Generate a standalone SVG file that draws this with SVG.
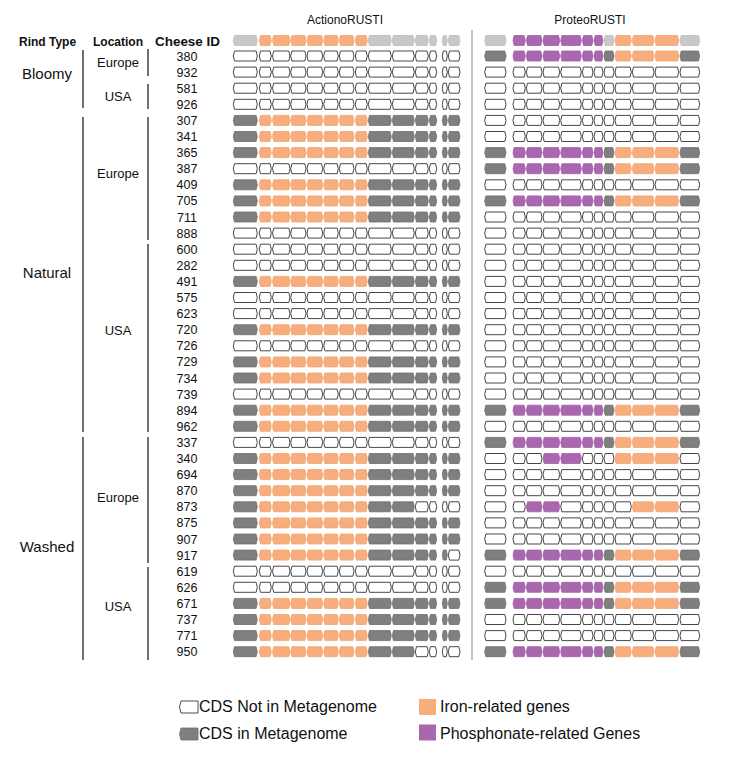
<svg xmlns="http://www.w3.org/2000/svg" xmlns:xlink="http://www.w3.org/1999/xlink" width="729" height="765" viewBox="0 0 729 765">
<style>
text{font-family:"Liberation Sans",Arial,sans-serif;fill:#111}
.hd{font-size:12px;font-weight:bold}
.id{font-size:12.5px;text-anchor:middle}
.rt{font-size:15px;text-anchor:middle}
.loc{font-size:13px;text-anchor:middle}
.ttl{font-size:12px;text-anchor:middle}
.lg{font-size:16px}
.w{fill:#fff;stroke:#333;stroke-width:0.9}
.g{fill:#7f7f7f;stroke:#6e6e6e;stroke-width:0.8}
.h{fill:#c8c8c8;stroke:#bcbcbc;stroke-width:0.8}
.o{fill:#f7ad7c;stroke:#f0a472;stroke-width:0.8}
.p{fill:#a967ae;stroke:#a060a6;stroke-width:0.8}
.ln{stroke:#222;stroke-width:1.3;fill:none}
</style>
<defs>
<path id="l1" d="M233.3 0L234.5-5H256.1L257.3 0L256.1 5H234.5Z"/>
<path id="l2" d="M259.3 0L260.5-5H270.1L271.3 0L270.1 5H260.5Z"/>
<path id="l3" d="M272.5 0L273.7-5H288.8L290 0L288.8 5H273.7Z"/>
<path id="l4" d="M290.7 0L291.9-5H304.8L306 0L304.8 5H291.9Z"/>
<path id="l5" d="M307 0L308.2-5H321.5L322.7 0L321.5 5H308.2Z"/>
<path id="l6" d="M323.7 0L324.9-5H337.1L338.3 0L337.1 5H324.9Z"/>
<path id="l7" d="M339.3 0L340.5-5H352.8L354 0L352.8 5H340.5Z"/>
<path id="l8" d="M355.3 0L356.5-5H366.1L367.3 0L366.1 5H356.5Z"/>
<path id="l9" d="M368.3 0L369.5-5H390.1L391.3 0L390.1 5H369.5Z"/>
<path id="l10" d="M392.3 0L393.5-5H413.1L414.3 0L413.1 5H393.5Z"/>
<path id="l11" d="M415.3 0L416.5-5H427.1L428.3 0L427.1 5H416.5Z"/>
<path id="l12" d="M429.3 0L430.5-5H435.5L436.7 0L435.5 5H430.5Z"/>
<path id="l13" d="M442.3 0L443.3-5H446.3L447.3 0L446.3 5H443.3Z"/>
<path id="l14" d="M448.3 0L449.5-5H458.8L460 0L458.8 5H449.5Z"/>
<path id="r1" d="M484.7 0L485.9-5H504.8L506 0L504.8 5H485.9Z"/>
<path id="r2" d="M513 0L514.2-5H524.1L525.3 0L524.1 5H514.2Z"/>
<path id="r3" d="M526.3 0L527.5-5H540.8L542 0L540.8 5H527.5Z"/>
<path id="r4" d="M543 0L544.2-5H558.5L559.7 0L558.5 5H544.2Z"/>
<path id="r5" d="M560.7 0L561.9-5H580.1L581.3 0L580.1 5H561.9Z"/>
<path id="r6" d="M582.3 0L583.5-5H591.8L593 0L591.8 5H583.5Z"/>
<path id="r7" d="M594 0L595.2-5H601.8L603 0L601.8 5H595.2Z"/>
<path id="r8" d="M604 0L605.2-5H612.8L614 0L612.8 5H605.2Z"/>
<path id="r9" d="M615 0L616.2-5H630.1L631.3 0L630.1 5H616.2Z"/>
<path id="r10" d="M632.3 0L633.5-5H652.8L654 0L652.8 5H633.5Z"/>
<path id="r11" d="M655 0L656.2-5H677.5L678.7 0L677.5 5H656.2Z"/>
<path id="r12" d="M680 0L681.2-5H698.5L699.7 0L698.5 5H681.2Z"/>
<g id="LW"><use href="#l1" class="w"/><use href="#l2" class="w"/><use href="#l3" class="w"/><use href="#l4" class="w"/><use href="#l5" class="w"/><use href="#l6" class="w"/><use href="#l7" class="w"/><use href="#l8" class="w"/><use href="#l9" class="w"/><use href="#l10" class="w"/><use href="#l11" class="w"/><use href="#l12" class="w"/><use href="#l13" class="w"/><use href="#l14" class="w"/></g>
<g id="LO"><use href="#l2" class="o"/><use href="#l3" class="o"/><use href="#l4" class="o"/><use href="#l5" class="o"/><use href="#l6" class="o"/><use href="#l7" class="o"/><use href="#l8" class="o"/></g>
<g id="LG"><use href="#l1" class="g"/><use href="#LO"/><use href="#l9" class="g"/><use href="#l10" class="g"/><use href="#l11" class="g"/><use href="#l12" class="g"/><use href="#l13" class="g"/><use href="#l14" class="g"/></g>
<g id="LG2"><use href="#l1" class="g"/><use href="#LO"/><use href="#l9" class="g"/><use href="#l10" class="g"/><use href="#l11" class="w"/><use href="#l12" class="w"/><use href="#l13" class="w"/><use href="#l14" class="w"/></g>
<g id="LG3"><use href="#l1" class="g"/><use href="#LO"/><use href="#l9" class="g"/><use href="#l10" class="g"/><use href="#l11" class="g"/><use href="#l12" class="g"/><use href="#l13" class="g"/><use href="#l14" class="w"/></g>
<g id="LH"><use href="#l1" class="h"/><use href="#LO"/><use href="#l9" class="h"/><use href="#l10" class="h"/><use href="#l11" class="h"/><use href="#l12" class="h"/><use href="#l13" class="h"/><use href="#l14" class="h"/></g>
<g id="RW"><use href="#r1" class="w"/><use href="#r2" class="w"/><use href="#r3" class="w"/><use href="#r4" class="w"/><use href="#r5" class="w"/><use href="#r6" class="w"/><use href="#r7" class="w"/><use href="#r8" class="w"/><use href="#r9" class="w"/><use href="#r10" class="w"/><use href="#r11" class="w"/><use href="#r12" class="w"/></g>
<g id="RPO"><use href="#r2" class="p"/><use href="#r3" class="p"/><use href="#r4" class="p"/><use href="#r5" class="p"/><use href="#r6" class="p"/><use href="#r7" class="p"/><use href="#r9" class="o"/><use href="#r10" class="o"/><use href="#r11" class="o"/></g>
<g id="RP"><use href="#r1" class="g"/><use href="#RPO"/><use href="#r8" class="g"/><use href="#r12" class="g"/></g>
<g id="RH"><use href="#r1" class="h"/><use href="#RPO"/><use href="#r8" class="h"/><use href="#r12" class="h"/></g>
<g id="R340"><use href="#r1" class="w"/><use href="#r2" class="w"/><use href="#r3" class="w"/><use href="#r4" class="p"/><use href="#r5" class="p"/><use href="#r6" class="w"/><use href="#r7" class="w"/><use href="#r8" class="w"/><use href="#r9" class="o"/><use href="#r10" class="o"/><use href="#r11" class="o"/><use href="#r12" class="w"/></g>
<g id="R873"><use href="#r1" class="w"/><use href="#r2" class="w"/><use href="#r3" class="p"/><use href="#r4" class="p"/><use href="#r5" class="w"/><use href="#r6" class="w"/><use href="#r7" class="w"/><use href="#r8" class="w"/><use href="#r9" class="w"/><use href="#r10" class="o"/><use href="#r11" class="o"/><use href="#r12" class="w"/></g>
</defs>
<rect width="729" height="765" fill="#fff"/>

<g id="titles">
<text class="ttl" x="345" y="24">ActionoRUSTI</text>
<text class="ttl" x="590" y="24">ProteoRUSTI</text>
<text class="hd" x="19" y="46">Rind Type</text>
<text class="hd" x="93" y="46">Location</text>
<text class="hd" x="155" y="46" textLength="65" lengthAdjust="spacingAndGlyphs">Cheese ID</text>
</g>

<g id="connectors">
<line class="ln" x1="83" y1="50" x2="83" y2="108"/>
<line class="ln" x1="83" y1="117" x2="83" y2="432"/>
<line class="ln" x1="83" y1="437" x2="83" y2="660"/>
<line class="ln" x1="148" y1="49" x2="148" y2="76"/>
<line class="ln" x1="148" y1="84" x2="148" y2="109"/>
<line class="ln" x1="148" y1="117" x2="148" y2="240"/>
<line class="ln" x1="148" y1="244" x2="148" y2="432"/>
<line class="ln" x1="148" y1="437" x2="148" y2="563"/>
<line class="ln" x1="148" y1="567" x2="148" y2="660"/>
<line x1="472" y1="30" x2="472" y2="660" stroke="#888" stroke-width="1"/>
</g>

<g id="groups">
<text class="rt" x="47" y="79">Bloomy</text>
<text class="rt" x="47" y="278">Natural</text>
<text class="rt" x="47" y="552">Washed</text>
<text class="loc" x="118" y="67">Europe</text>
<text class="loc" x="118" y="101">USA</text>
<text class="loc" x="118" y="178">Europe</text>
<text class="loc" x="118" y="335">USA</text>
<text class="loc" x="118" y="502">Europe</text>
<text class="loc" x="118" y="611">USA</text>
</g>

<g id="reference"><use href="#LH" y="40.5"/><use href="#RH" y="40.5"/></g>

<g id="row-380"><use href="#LW" y="56"/><use href="#RP" y="56"/><text class="id" x="187" y="60.5">380</text></g>
<g id="row-932"><use href="#LW" y="72.1"/><use href="#RW" y="72.1"/><text class="id" x="187" y="76.6">932</text></g>
<g id="row-581"><use href="#LW" y="88.2"/><use href="#RW" y="88.2"/><text class="id" x="187" y="92.7">581</text></g>
<g id="row-926"><use href="#LW" y="104.3"/><use href="#RW" y="104.3"/><text class="id" x="187" y="108.8">926</text></g>
<g id="row-307"><use href="#LG" y="120.4"/><use href="#RW" y="120.4"/><text class="id" x="187" y="124.9">307</text></g>
<g id="row-341"><use href="#LG" y="136.5"/><use href="#RW" y="136.5"/><text class="id" x="187" y="141">341</text></g>
<g id="row-365"><use href="#LG" y="152.6"/><use href="#RP" y="152.6"/><text class="id" x="187" y="157.1">365</text></g>
<g id="row-387"><use href="#LW" y="168.7"/><use href="#RP" y="168.7"/><text class="id" x="187" y="173.2">387</text></g>
<g id="row-409"><use href="#LG" y="184.8"/><use href="#RW" y="184.8"/><text class="id" x="187" y="189.3">409</text></g>
<g id="row-705"><use href="#LG" y="200.9"/><use href="#RP" y="200.9"/><text class="id" x="187" y="205.4">705</text></g>
<g id="row-711"><use href="#LG" y="217"/><use href="#RW" y="217"/><text class="id" x="187" y="221.5">711</text></g>
<g id="row-888"><use href="#LW" y="233.1"/><use href="#RW" y="233.1"/><text class="id" x="187" y="237.6">888</text></g>
<g id="row-600"><use href="#LW" y="249.2"/><use href="#RW" y="249.2"/><text class="id" x="187" y="253.7">600</text></g>
<g id="row-282"><use href="#LW" y="265.3"/><use href="#RW" y="265.3"/><text class="id" x="187" y="269.8">282</text></g>
<g id="row-491"><use href="#LG" y="281.4"/><use href="#RW" y="281.4"/><text class="id" x="187" y="285.9">491</text></g>
<g id="row-575"><use href="#LW" y="297.5"/><use href="#RW" y="297.5"/><text class="id" x="187" y="302">575</text></g>
<g id="row-623"><use href="#LW" y="313.6"/><use href="#RW" y="313.6"/><text class="id" x="187" y="318.1">623</text></g>
<g id="row-720"><use href="#LG" y="329.7"/><use href="#RW" y="329.7"/><text class="id" x="187" y="334.2">720</text></g>
<g id="row-726"><use href="#LW" y="345.8"/><use href="#RW" y="345.8"/><text class="id" x="187" y="350.3">726</text></g>
<g id="row-729"><use href="#LG" y="361.9"/><use href="#RW" y="361.9"/><text class="id" x="187" y="366.4">729</text></g>
<g id="row-734"><use href="#LG" y="378"/><use href="#RW" y="378"/><text class="id" x="187" y="382.5">734</text></g>
<g id="row-739"><use href="#LW" y="394.1"/><use href="#RW" y="394.1"/><text class="id" x="187" y="398.6">739</text></g>
<g id="row-894"><use href="#LG" y="410.2"/><use href="#RP" y="410.2"/><text class="id" x="187" y="414.7">894</text></g>
<g id="row-962"><use href="#LG" y="426.3"/><use href="#RW" y="426.3"/><text class="id" x="187" y="430.8">962</text></g>
<g id="row-337"><use href="#LW" y="442.4"/><use href="#RP" y="442.4"/><text class="id" x="187" y="446.9">337</text></g>
<g id="row-340"><use href="#LG" y="458.5"/><use href="#R340" y="458.5"/><text class="id" x="187" y="463">340</text></g>
<g id="row-694"><use href="#LG" y="474.6"/><use href="#RW" y="474.6"/><text class="id" x="187" y="479.1">694</text></g>
<g id="row-870"><use href="#LG" y="490.7"/><use href="#RW" y="490.7"/><text class="id" x="187" y="495.2">870</text></g>
<g id="row-873"><use href="#LG2" y="506.8"/><use href="#R873" y="506.8"/><text class="id" x="187" y="511.3">873</text></g>
<g id="row-875"><use href="#LG" y="522.9"/><use href="#RW" y="522.9"/><text class="id" x="187" y="527.4">875</text></g>
<g id="row-907"><use href="#LG" y="539"/><use href="#RW" y="539"/><text class="id" x="187" y="543.5">907</text></g>
<g id="row-917"><use href="#LG3" y="555.1"/><use href="#RP" y="555.1"/><text class="id" x="187" y="559.6">917</text></g>
<g id="row-619"><use href="#LW" y="571.2"/><use href="#RW" y="571.2"/><text class="id" x="187" y="575.7">619</text></g>
<g id="row-626"><use href="#LW" y="587.3"/><use href="#RP" y="587.3"/><text class="id" x="187" y="591.8">626</text></g>
<g id="row-671"><use href="#LG" y="603.4"/><use href="#RP" y="603.4"/><text class="id" x="187" y="607.9">671</text></g>
<g id="row-737"><use href="#LG" y="619.5"/><use href="#RW" y="619.5"/><text class="id" x="187" y="624">737</text></g>
<g id="row-771"><use href="#LG" y="635.6"/><use href="#RW" y="635.6"/><text class="id" x="187" y="640.1">771</text></g>
<g id="row-950"><use href="#LG2" y="651.7"/><use href="#RP" y="651.7"/><text class="id" x="187" y="656.2">950</text></g>

<g id="legend">
<path class="w" d="M179.5 707L181 701H198V713H181Z"/>
<text class="lg" x="199" y="712">CDS Not in Metagenome</text>
<path class="g" d="M179.5 734L181 728H198V740H181Z"/>
<text class="lg" x="199" y="739">CDS in Metagenome</text>
<rect x="419" y="699" width="17" height="16" fill="#f7ad7c"/>
<text class="lg" x="440" y="712">Iron-related genes</text>
<rect x="419" y="724.5" width="17" height="16" fill="#a967ae"/>
<text class="lg" x="440" y="739">Phosphonate-related Genes</text>
</g>
</svg>
